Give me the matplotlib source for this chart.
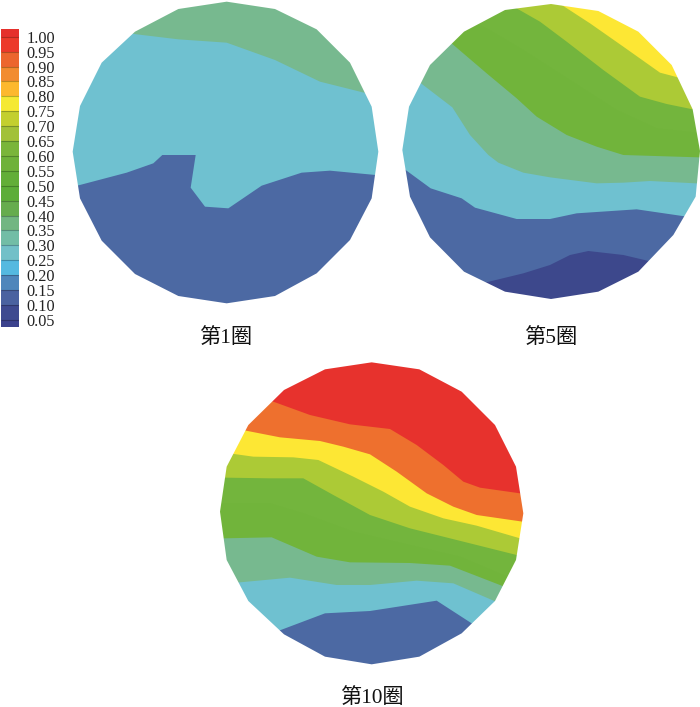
import matplotlib
matplotlib.use("Agg")
import matplotlib.pyplot as plt
from matplotlib.patches import Polygon, PathPatch
from matplotlib.path import Path

plt.rcParams['font.family'] = ['Liberation Serif', 'Noto Sans CJK SC']

W, H = 700, 707

# --- Colour bar ---
bar_edges = [1.026, 1.00, 0.95, 0.90, 0.85, 0.80, 0.75, 0.70, 0.65, 0.60, 0.55,
             0.50, 0.45, 0.40, 0.35, 0.30, 0.25, 0.20, 0.15, 0.10, 0.05, 0.026]
bar_colors = ['#e5302c', '#ec3a2b', '#ec662e', '#f28c30', '#fdb82e', '#f5e934', '#c3cf2f',
              '#a2c138', '#7ab53a', '#6fb23a', '#63ae38', '#5dad38', '#66ac4e', '#72b682',
              '#72bda6', '#72c0c8', '#55b9e0', '#4f86bb', '#4a62a0', '#3e4a90', '#3b428d']
bar_labels = [1.00, 0.95, 0.90, 0.85, 0.80, 0.75, 0.70, 0.65, 0.60, 0.55,
              0.50, 0.45, 0.40, 0.35, 0.30, 0.25, 0.20, 0.15, 0.10, 0.05]

# --- Band colours ---
RED = '#e7322d'
ORANGE = '#ee702e'
YELLOW = '#fde734'
LIME = '#acca36'
GREEN_A = '#73b53d'
GREEN_B = '#71b43b'
SAGE = '#77b98f'
TEAL = '#6fc1d0'
BLUE = '#4c69a3'
DARK = '#3d488c'

# --- Round 1 (traced outline and band boundaries) ---
rim_1 = [(680, 5), (825, 27), (950, 88), (1050, 188), (1115, 320), (1135, 455), (1115, 595),
         (1050, 720), (950, 820), (825, 888), (680, 910), (535, 888), (405, 822), (305, 722),
         (240, 595), (218, 455), (240, 318), (305, 188), (405, 95), (535, 27)]
colors_1 = [SAGE, TEAL, BLUE]
bounds_1 = [
    [(350, 93), (410, 103), (535, 118), (680, 128), (825, 180), (960, 245), (1100, 280), (1160, 292)],
    [(190, 568), (232, 557), (380, 518), (460, 490), (487, 465), (587, 465), (572, 563), (615, 620),
     (685, 625), (785, 557), (905, 518), (990, 512), (1127, 525), (1170, 528)],
]

# --- Round 5 ---
rim_5 = [(483, 12), (625, 33), (745, 95), (845, 195), (908, 328), (930, 453), (917, 590),
         (850, 705), (745, 815), (625, 875), (483, 897), (345, 875), (222, 815), (120, 712),
         (60, 590), (37, 450), (57, 320), (120, 195), (222, 95), (345, 30)]
colors_5 = [YELLOW, LIME, GREEN_A, GREEN_B, SAGE, TEAL, BLUE, DARK]
bounds_5 = [
    [(470, -15), (520, 18), (600, 70), (700, 140), (810, 218), (863, 232), (930, 250)],
    [(340, 0), (385, 28), (450, 65), (530, 125), (640, 210), (750, 290), (830, 312), (908, 328), (940, 334)],
    [(230, 60), (290, 85), (400, 150), (540, 240), (680, 330), (800, 385), (940, 400)],
    [(150, 100), (187, 132), (290, 220), (380, 295), (440, 350), (530, 405), (620, 440), (700, 465),
     (860, 470), (960, 473)],
    [(60, 225), (93, 250), (187, 322), (240, 405), (295, 465), (325, 488), (400, 518), (480, 532),
     (620, 550), (700, 548), (780, 543), (917, 550), (950, 551)],
    [(10, 483), (47, 510), (122, 565), (215, 595), (255, 623), (380, 657), (480, 657), (560, 640),
     (740, 628), (877, 648), (925, 655)],
    [(250, 858), (297, 845), (400, 820), (480, 795), (540, 765), (595, 753), (700, 765), (772, 782),
     (820, 795)],
]

# --- Round 10 ---
rim_10 = [(485, 22), (628, 43), (755, 110), (855, 210), (918, 335), (940, 475), (918, 615),
          (855, 738), (755, 835), (628, 905), (485, 928), (345, 905), (222, 838), (115, 738),
          (50, 615), (30, 470), (50, 335), (115, 210), (222, 105), (345, 43)]
colors_10 = [RED, ORANGE, YELLOW, LIME, GREEN_A, GREEN_B, SAGE, TEAL, BLUE]
bounds_10 = [
    [(150, 127), (190, 140), (300, 180), (420, 208), (540, 222), (620, 270), (700, 330), (760, 380),
     (810, 398), (930, 415), (970, 420)],
    [(70, 220), (108, 227), (210, 247), (330, 258), (400, 275), (480, 298), (560, 350), (650, 415),
     (730, 455), (800, 480), (938, 500), (970, 505)],
    [(30, 292), (72, 297), (130, 305), (250, 307), (325, 315), (430, 365), (520, 410), (600, 455),
     (700, 490), (800, 512), (930, 550), (970, 560)],
    [(10, 368), (47, 368), (180, 370), (280, 370), (370, 420), (480, 480), (600, 520), (720, 550),
     (920, 600), (960, 610)],
    [(10, 445), (180, 445), (280, 475), (430, 530), (600, 570), (750, 605), (880, 660), (930, 680)],
    [(10, 551), (42, 550), (185, 547), (320, 605), (420, 622), (600, 624), (720, 632), (875, 692),
     (930, 715)],
    [(50, 686), (90, 682), (240, 668), (380, 690), (480, 690), (620, 677), (730, 685), (853, 738),
     (900, 760)],
    [(160, 845), (207, 827), (345, 775), (480, 768), (680, 737), (785, 805), (830, 835)],
]


def draw_disc(box, rim, colors, bounds, label, label_xy):
    # box is in picture pixels; the traced points are 3 units per pixel
    x0, y0, w, h = box
    ax = fig.add_axes([x0 / W, 1 - (y0 + h) / H, w / W, h / H])
    ax.set_xlim(0, w * 3)
    ax.set_ylim(h * 3, 0)
    ax.axis('off')

    far_x = 3000
    far_y = 3000
    ax.add_patch(Polygon([(-far_x, -far_y), (far_x, -far_y), (far_x, far_y), (-far_x, far_y)],
                         closed=True, facecolor=colors[0], edgecolor='none', zorder=1))
    for line, color in zip(bounds, colors[1:]):
        pts = list(line)
        pts += [(far_x, line[-1][1]), (far_x, far_y), (-far_x, far_y), (-far_x, line[0][1])]
        ax.add_patch(Polygon(pts, closed=True, facecolor=color, edgecolor='none', zorder=1))

    # white sheet with a rim-shaped hole gives a smooth disc edge
    outer = [(-far_x, -far_y), (far_x, -far_y), (far_x, far_y), (-far_x, far_y), (-far_x, -far_y)]
    inner = list(reversed(rim)) + [rim[-1]]
    verts = outer + inner
    codes = ([Path.MOVETO] + [Path.LINETO] * 3 + [Path.CLOSEPOLY]
             + [Path.MOVETO] + [Path.LINETO] * (len(rim) - 1) + [Path.CLOSEPOLY])
    ax.add_patch(PathPatch(Path(verts, codes), facecolor='white', edgecolor='none', zorder=2))

    ax.text(label_xy[0], label_xy[1], label, ha='center', va='center', fontsize=15.3,
            color='#111111', zorder=3)


fig = plt.figure(figsize=(W / 100, H / 100), dpi=100)

draw_disc((0, 0, 390, 350), rim_1, colors_1, bounds_1, '第1圈', (677, 1013))
draw_disc((390, 0, 310, 350), rim_5, colors_5, bounds_5, '第5圈', (482, 1013))
draw_disc((210, 355, 320, 352), rim_10, colors_10, bounds_10, '第10圈', (485, 1028))

# Colour bar with labels on its right side
cax = fig.add_axes([1 / W, 1 - 327 / H, 18 / W, 298 / H])
for i, color in enumerate(bar_colors):
    cax.barh(bar_edges[i + 1], 1, height=bar_edges[i] - bar_edges[i + 1], align='edge',
             color=color, edgecolor='none')
cax.hlines(bar_labels, 0, 1, color='black', alpha=0.25, linewidth=0.8)
cax.set_xlim(0, 1)
cax.set_ylim(bar_edges[-1], bar_edges[0])
cax.set_xticks([])
cax.yaxis.tick_right()
cax.set_yticks(bar_labels)
cax.set_yticklabels([f"{v:.2f}" for v in bar_labels], fontsize=11.7, color='#222222')
cax.tick_params(axis='y', length=0, pad=5.5)
for spine in cax.spines.values():
    spine.set_visible(False)

fig.savefig('out.png', dpi=100)
